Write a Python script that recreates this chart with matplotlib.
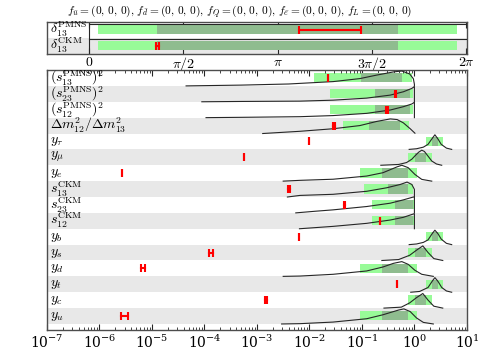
import numpy as np
import matplotlib
matplotlib.use('Agg')
import matplotlib.pyplot as plt

plt.rcParams['mathtext.fontset'] = 'cm'
plt.rcParams['font.family'] = 'serif'
plt.rcParams['font.serif'] = ['DejaVu Serif']

LIGHT = '#98fb98'
DARK = '#8fbc8f'
GREY = '#e8e8e8'
FRAME = '0.3'

title = (r'$f_{\bar{u}}=(0,\,0,\,0),\,f_{\bar{d}}=(0,\,0,\,0),\,f_Q=(0,\,0,\,0),\,'
         r'f_{\bar{e}}=(0,\,0,\,0),\,f_L=(0,\,0,\,0)$')

# --- top panel: CP phases (radians) ---
delta_labels = [r'$\delta_{13}^{\mathrm{PMNS}}$', r'$\delta_{13}^{\mathrm{CKM}}$']
delta_light_lo = [0.155, 0.155]
delta_light_hi = [6.13, 6.13]
delta_dark_lo = [1.125, 1.125]
delta_dark_hi = [5.153, 5.153]
delta_red_lo = [3.49, 1.115]
delta_red_hi = [4.53, 1.17]
delta_pdf_level = [0.9, 0.9]
delta_ticks = [0, np.pi / 2, np.pi, 3 * np.pi / 2, 2 * np.pi]
delta_ticklabels = [r'$0$', r'$\pi/2$', r'$\pi$', r'$3\pi/2$', r'$2\pi$']

# --- main panel (values as log10) ---
labels = [r'$(s_{13}^{\mathrm{PMNS}})^2$', r'$(s_{23}^{\mathrm{PMNS}})^2$',
          r'$(s_{12}^{\mathrm{PMNS}})^2$', r'$\Delta m^2_{12}/\Delta m^2_{13}$',
          r'$y_\tau$', r'$y_\mu$', r'$y_e$',
          r'$s_{13}^{\mathrm{CKM}}$', r'$s_{23}^{\mathrm{CKM}}$', r'$s_{12}^{\mathrm{CKM}}$',
          r'$y_b$', r'$y_s$', r'$y_d$', r'$y_t$', r'$y_c$', r'$y_u$']
light_lo = [-1.91, -1.61, -1.61, -1.37, 0.22, -0.13, -1.04, -0.96, -0.80, -0.80,
            0.22, -0.13, -1.04, 0.22, -0.13, -1.04]
light_hi = [-0.04, -0.02, -0.02, -0.10, 0.54, 0.33, 0.04, -0.03, 0.0, 0.0,
            0.54, 0.33, 0.04, 0.54, 0.33, 0.04]
dark_lo = [-1.02, -0.75, -0.75, -0.87, 0.33, 0.02, -0.61, -0.51, -0.37, -0.37,
           0.33, 0.02, -0.61, 0.33, 0.02, -0.61]
dark_hi = [-0.24, -0.09, -0.09, -0.28, 0.45, 0.23, -0.12, -0.12, -0.03, -0.03,
           0.45, 0.23, -0.12, 0.45, 0.23, -0.12]
red_lo = [-1.653, -0.375, -0.535, -1.545, -2.015, -3.245, -5.566, -2.40, -1.345, -0.657,
          -2.20, -3.914, -5.215, -0.34, -2.845, -5.59]
red_hi = [-1.653, -0.345, -0.505, -1.515, -2.015, -3.245, -5.566, -2.37, -1.330, -0.657,
          -2.20, -3.844, -5.140, -0.34, -2.815, -5.46]

# posterior curves: log10(x) and height as fraction of the row
pdf_s13p_x = [-4.35, -3.3, -2.4, -1.55, -1.04, -0.72, -0.40, -0.24, -0.09, -0.02, 0.0, 0.0]
pdf_s13p_h = [0.0, 0.05, 0.12, 0.27, 0.46, 0.68, 0.88, 0.94, 0.75, 0.45, 0.1, 0.0]
pdf_s23p_x = [-4.05, -3.3, -2.18, -1.55, -0.91, -0.46, -0.21, -0.05, 0.0, 0.0]
pdf_s23p_h = [0.0, 0.02, 0.04, 0.10, 0.23, 0.42, 0.63, 0.84, 0.96, 0.0]
pdf_s12p_x = [-3.97, -3.3, -2.18, -1.55, -0.91, -0.46, -0.21, -0.05, 0.0, 0.0]
pdf_s12p_h = [0.0, 0.02, 0.06, 0.13, 0.27, 0.48, 0.69, 0.86, 0.97, 0.0]
pdf_dm_x = [-2.89, -2.18, -1.55, -1.04, -0.72, -0.46, -0.33, -0.21, -0.08, 0.01]
pdf_dm_h = [0.0, 0.14, 0.30, 0.50, 0.76, 0.92, 0.88, 0.67, 0.30, 0.02]
pdf_ytau_x = [-0.10, 0.04, 0.17, 0.26, 0.33, 0.39, 0.45, 0.51, 0.61, 0.71]
pdf_ytau_h = [0.0, 0.04, 0.14, 0.32, 0.65, 0.92, 0.65, 0.32, 0.08, 0.0]
pdf_ymu_x = [-0.64, -0.30, -0.15, -0.05, 0.01, 0.08, 0.14, 0.19, 0.23, 0.33, 0.42, 0.52]
pdf_ymu_h = [0.0, 0.05, 0.17, 0.38, 0.59, 0.82, 0.95, 0.87, 0.70, 0.27, 0.08, 0.0]
pdf_ye_x = [-2.50, -2.18, -1.55, -0.91, -0.60, -0.33, -0.24, -0.12, 0.01, 0.14, 0.33]
pdf_ye_h = [0.0, 0.05, 0.12, 0.32, 0.53, 0.90, 1.0, 0.85, 0.42, 0.11, 0.0]
pdf_s13c_x = [-2.42, -2.18, -1.55, -0.91, -0.53, -0.27, -0.14, -0.05, 0.0, 0.0]
pdf_s13c_h = [0.0, 0.10, 0.17, 0.36, 0.58, 0.79, 0.94, 0.79, 0.48, 0.0]
pdf_s23c_x = [-2.26, -1.9, -1.55, -0.91, -0.46, -0.21, -0.02, 0.0, 0.0]
pdf_s23c_h = [0.0, 0.10, 0.19, 0.40, 0.61, 0.82, 1.0, 1.0, 0.0]
pdf_s12c_x = [-2.19, -1.55, -0.91, -0.46, -0.21, -0.02, 0.0, 0.0]
pdf_s12c_h = [0.0, 0.15, 0.34, 0.55, 0.72, 0.93, 0.95, 0.0]
pdf_yb_x = [-0.10, 0.04, 0.17, 0.26, 0.34, 0.39, 0.45, 0.51, 0.61, 0.71]
pdf_yb_h = [0.0, 0.04, 0.14, 0.30, 0.70, 0.91, 0.68, 0.35, 0.08, 0.0]
pdf_ys_x = [-0.62, -0.30, -0.09, 0.04, 0.16, 0.26, 0.37, 0.54]
pdf_ys_h = [0.0, 0.06, 0.33, 0.65, 0.92, 0.50, 0.12, 0.0]
pdf_yd_x = [-2.50, -2.18, -1.55, -0.91, -0.60, -0.40, -0.24, -0.12, 0.01, 0.14, 0.36]
pdf_yd_h = [0.0, 0.02, 0.13, 0.34, 0.59, 0.82, 0.93, 0.76, 0.38, 0.13, 0.0]
pdf_yt_x = [-0.07, 0.10, 0.26, 0.34, 0.39, 0.45, 0.52, 0.61, 0.71]
pdf_yt_h = [0.0, 0.05, 0.30, 0.70, 0.92, 0.68, 0.30, 0.08, 0.0]
pdf_yc_x = [-0.58, -0.25, -0.09, 0.04, 0.16, 0.26, 0.37, 0.54]
pdf_yc_h = [0.0, 0.06, 0.33, 0.66, 0.92, 0.50, 0.12, 0.0]
pdf_yu_x = [-2.53, -2.18, -1.55, -0.91, -0.60, -0.30, -0.20, -0.08, 0.04, 0.17, 0.36]
pdf_yu_h = [0.0, 0.02, 0.12, 0.33, 0.58, 0.88, 0.95, 0.78, 0.38, 0.10, 0.0]

curves = [(pdf_s13p_x, pdf_s13p_h), (pdf_s23p_x, pdf_s23p_h), (pdf_s12p_x, pdf_s12p_h),
          (pdf_dm_x, pdf_dm_h), (pdf_ytau_x, pdf_ytau_h), (pdf_ymu_x, pdf_ymu_h),
          (pdf_ye_x, pdf_ye_h), (pdf_s13c_x, pdf_s13c_h), (pdf_s23c_x, pdf_s23c_h),
          (pdf_s12c_x, pdf_s12c_h), (pdf_yb_x, pdf_yb_h), (pdf_ys_x, pdf_ys_h),
          (pdf_yd_x, pdf_yd_h), (pdf_yt_x, pdf_yt_h), (pdf_yc_x, pdf_yc_h),
          (pdf_yu_x, pdf_yu_h)]

BAND_BOT, BAND_TOP = 0.22, 0.80   # green band, fraction of row (from bottom)
RED_HALF = 0.25


def style_frame(ax):
    for s in ax.spines.values():
        s.set_color(FRAME)
        s.set_linewidth(1.0)


fig = plt.figure(figsize=(4.81, 3.51), dpi=100)
fig.text(0.499, 0.967, title, ha='center', va='center', fontsize=8.2)

# ---------------- top panel ----------------
axt = fig.add_axes([0.0977, 0.8462, 0.873, 0.0912])
n_top = len(delta_labels)
for r in range(n_top):
    if r % 2 == 1:
        axt.axhspan(r, r + 1, color=GREY, lw=0, zorder=0)
    bot = r + 1
    axt.barh(bot - (BAND_BOT + BAND_TOP) / 2, delta_light_hi[r] - delta_light_lo[r],
             left=delta_light_lo[r], height=BAND_TOP - BAND_BOT, color=LIGHT, lw=0, zorder=1)
    axt.barh(bot - (BAND_BOT + BAND_TOP) / 2, delta_dark_hi[r] - delta_dark_lo[r],
             left=delta_dark_lo[r], height=BAND_TOP - BAND_BOT, color=DARK, lw=0, zorder=2)
    axt.plot([0, 2 * np.pi], [bot - delta_pdf_level[r]] * 2, color='0.15', lw=0.8, zorder=3)
    yc = r + 0.5
    axt.plot([delta_red_lo[r], delta_red_hi[r]], [yc, yc], color='red', lw=1.5, zorder=4)
    axt.vlines([delta_red_lo[r], delta_red_hi[r]], yc - RED_HALF, yc + RED_HALF,
               color='red', lw=1.5, zorder=4)
    axt.text(0.006, yc, delta_labels[r], transform=axt.get_yaxis_transform(),
             ha='left', va='center', fontsize=10)
axt.axvline(0, color='0.15', lw=0.8)
axt.set_xlim(-0.70, 2 * np.pi + 0.01)
axt.set_ylim(2.03, 0)
axt.set_yticks([])
axt.set_xticks(delta_ticks)
axt.set_xticklabels(delta_ticklabels, fontsize=10)
axt.tick_params(axis='x', direction='in', top=True, length=4, width=0.8, color='0.15', pad=1)
style_frame(axt)

# ---------------- main panel ----------------
ax = fig.add_axes([0.0977, 0.0598, 0.873, 0.7407])
n = len(labels)
for r in range(n):
    if r % 2 == 1:
        ax.axhspan(r, r + 1, color=GREY, lw=0, zorder=0)
    bot = r + 1
    yb = bot - (BAND_BOT + BAND_TOP) / 2
    lo1, hi1 = 10.0 ** light_lo[r], 10.0 ** light_hi[r]
    lo2, hi2 = 10.0 ** dark_lo[r], 10.0 ** dark_hi[r]
    ax.barh(yb, hi1 - lo1, left=lo1, height=BAND_TOP - BAND_BOT, color=LIGHT, lw=0, zorder=1)
    ax.barh(yb, hi2 - lo2, left=lo2, height=BAND_TOP - BAND_BOT, color=DARK, lw=0, zorder=2)
    cx, ch = curves[r]
    ax.plot(10.0 ** np.array(cx), bot - np.array(ch), color='0.15', lw=0.8, zorder=3)
    yc = r + 0.5
    rl, rh = 10.0 ** red_lo[r], 10.0 ** red_hi[r]
    ax.plot([rl, rh], [yc, yc], color='red', lw=1.5, zorder=4)
    ax.vlines([rl, rh], yc - RED_HALF, yc + RED_HALF, color='red', lw=1.5, zorder=4)
    ax.text(0.006, yc, labels[r], transform=ax.get_yaxis_transform(),
            ha='left', va='center', fontsize=10, zorder=5)

ax.set_xscale('log')
ax.set_xlim(1e-7, 1e1)
ax.set_ylim(n + 0.38, 0)
ax.set_yticks([])
ax.tick_params(axis='x', which='major', direction='in', top=True, length=4,
               width=0.8, color='0.15', labelsize=10, pad=3)
ax.tick_params(axis='x', which='minor', direction='in', top=True, length=2,
               width=0.6, color='0.15')
style_frame(ax)

fig.savefig('out.png', dpi=100)
